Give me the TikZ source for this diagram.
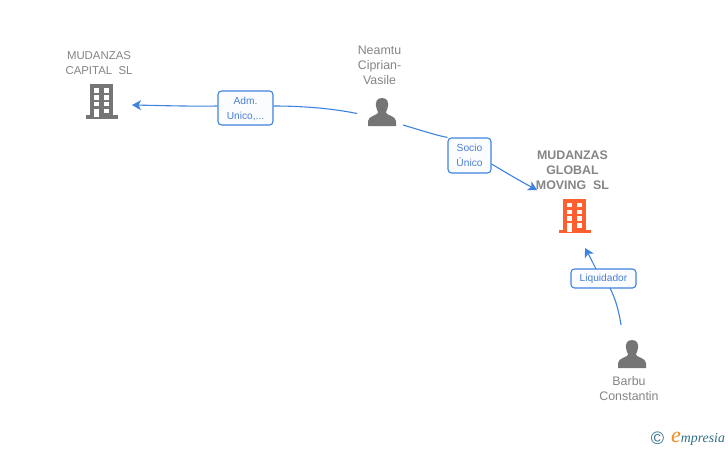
\documentclass[tikz,border=0pt]{standalone}
\usepackage{fontspec}
\setmainfont{Liberation Sans}
\newfontfamily\logofont{Liberation Serif}
\usetikzlibrary{arrows.meta}
\definecolor{linkblue}{HTML}{3F83E0}
\definecolor{labelblue}{HTML}{4A7FD6}
\definecolor{icongrey}{HTML}{757575}
\definecolor{textgrey}{HTML}{858585}
\definecolor{accent}{HTML}{FF5F2E}
\definecolor{logoteal}{HTML}{2F6F86}
\definecolor{logoorange}{HTML}{F28A1A}
\definecolor{boxfill}{HTML}{FBFCFE}
\tikzset{
  x=1pt,y=-1pt,
  linkline/.style={draw=linkblue,line width=1.1pt},
  linkarrow/.style={linkline,-{Stealth[length=9pt,width=10pt,inset=2.5pt]}},
  rolebox/.style={draw=linkblue,line width=1.1pt,fill=boxfill,rounded corners=3.5pt,inner sep=0pt,
    align=center,text=labelblue,font=\fontsize{10.2}{15}\selectfont},
  nametext/.style={text=textgrey,align=center,inner sep=0pt,font=\fontsize{12.4}{15}\selectfont},
  mainname/.style={text=textgrey,align=center,inner sep=0pt,font=\fontsize{12.4}{15.2}\selectfont\bfseries},
}
\newcommand{\buildingicon}[3]{% x, y (top-left of the outline), colour
  \begin{scope}[shift={(#1,#2)}]
    \fill[#3] (4,0) rectangle (27,33);
    \fill[#3] (0,31) rectangle (32,34.5);
    \foreach \wy in {4.3,11,17.8,24.5}{\fill[white] (18,\wy) rectangle ++(5,4.6);}
    \foreach \wy in {4.3,11,17.8}{\fill[white] (8.2,\wy) rectangle ++(5,4.6);}
    \fill[white] (8.2,24.5) rectangle (13.2,33);
  \end{scope}}
\newcommand{\personicon}[2]{% centre x, top y
  \begin{scope}[shift={(#1,#2)}]
    \fill[icongrey] (0,0) .. controls (-5.5,0) and (-6.5,4.5) .. (-6,8)
      .. controls (-5.8,11) and (-4.5,12.5) .. (-3.8,14.5)
      .. controls (-3.8,17) and (-14,18) .. (-14,23)
      -- (-14,28) -- (14,28) -- (14,23)
      .. controls (14,18) and (3.8,17) .. (3.8,14.5)
      .. controls (4.5,12.5) and (5.8,11) .. (6,8)
      .. controls (6.5,4.5) and (5.5,0) .. (0,0) -- cycle;
  \end{scope}}
\begin{document}
\begin{tikzpicture}
\useasboundingbox (0,0) rectangle (728,450);
\fill[white] (0,0) rectangle (728,450);

% entity names
\node[nametext,font=\fontsize{11.4}{15}\selectfont] (capital) at (99,63) {MUDANZAS\\CAPITAL\ \ SL};
\node[nametext] (neamtu) at (379.5,65) {Neamtu\\Ciprian-\\Vasile};
\node[mainname] (moving) at (572.5,170) {MUDANZAS\\GLOBAL\\MOVING\ \ SL};
\node[nametext] (barbu) at (629,388.5) {Barbu\\Constantin};

% icons
\buildingicon{86}{84}{icongrey}
\personicon{382}{98}
\buildingicon{559}{198.5}{accent}
\personicon{632}{340}

% anchors of the free connector ends
\coordinate (fromneamtuL) at (357,113.5);
\coordinate (tocapital) at (132,105);
\coordinate (fromneamtuR) at (403,125);
\coordinate (tomoving) at (537,190);
\coordinate (frombarbu) at (621,325);
\coordinate (tomovingB) at (585,248);

% role boxes
\node[rolebox,minimum width=55pt,minimum height=34pt,text depth=0pt] (adm) at (245.5,108) {Adm.\\Unico,...};
\node[rolebox,minimum width=43pt,minimum height=35pt] (socio) at (469.5,155.5) {Socio\\Único};
\node[rolebox,minimum width=65pt,minimum height=19pt] (liq) at (603.5,278.5) {Liquidador};

% connectors
\draw[linkline] (fromneamtuL) .. controls (330,108) and (300,106) .. (adm.east |- 0,106);
\draw[linkarrow] (adm.west |- 0,106) .. controls (190,106.5) and (160,105.5) .. (tocapital);
\draw[linkline] (fromneamtuR) .. controls (420,130) and (435,135) .. (socio.north west);
\draw[linkarrow] (socio.east |- 0,164) .. controls (505,172) and (520,181) .. (tomoving);
\draw[linkline] (frombarbu) .. controls (619,312) and (616,300) .. (610,288);
\draw[linkarrow] (596,269) .. controls (593,263) and (590,257) .. (tomovingB);

% logo
\node[inner sep=0pt,text=logoteal,font=\fontsize{18}{18}\selectfont] (copy) at (657.5,438.5) {©};
\node[inner sep=0pt,anchor=west,text=logoteal,font=\logofont\itshape\fontsize{13.8}{13.8}\selectfont] (logo) at (671,439)
  {{\color{logoorange}\fontsize{22}{22}\selectfont e}mpresia};
\end{tikzpicture}
\end{document}
